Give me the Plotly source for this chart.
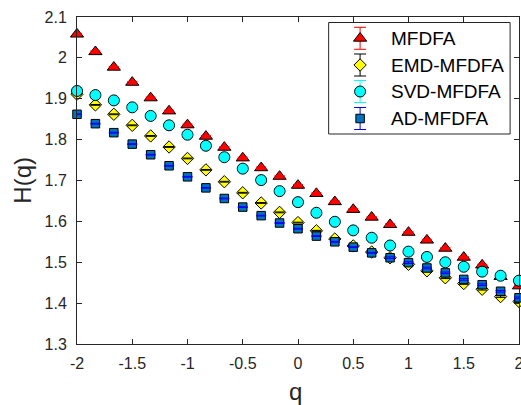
import plotly.graph_objects as go

# ---- data -------------------------------------------------------------
q = [-2.0, -1.8333, -1.6667, -1.5, -1.3333, -1.1667, -1.0, -0.8333, -0.6667,
     -0.5, -0.3333, -0.1667, 0.0, 0.1667, 0.3333, 0.5, 0.6667, 0.8333, 1.0,
     1.1667, 1.3333, 1.5, 1.6667, 1.8333, 2.0]

h_mfdfa = [2.058, 2.015, 1.977, 1.940, 1.902, 1.870, 1.836, 1.808, 1.781,
           1.755, 1.731, 1.710, 1.688, 1.668, 1.648, 1.629, 1.610, 1.592,
           1.573, 1.554, 1.534, 1.512, 1.493, 1.465, 1.442]
h_emd = [1.911, 1.885, 1.862, 1.835, 1.809, 1.782, 1.754, 1.726, 1.697,
         1.670, 1.645, 1.622, 1.597, 1.577, 1.557, 1.540, 1.525, 1.511,
         1.495, 1.479, 1.462, 1.448, 1.434, 1.416, 1.404]
h_svd = [1.919, 1.909, 1.896, 1.879, 1.858, 1.835, 1.812, 1.785, 1.757,
         1.729, 1.701, 1.674, 1.647, 1.621, 1.599, 1.578, 1.560, 1.541,
         1.526, 1.513, 1.500, 1.489, 1.477, 1.467, 1.455]
h_ad = [1.862, 1.839, 1.817, 1.789, 1.763, 1.736, 1.709, 1.682, 1.656,
        1.635, 1.614, 1.596, 1.582, 1.564, 1.550, 1.537, 1.523, 1.511,
        1.499, 1.486, 1.474, 1.458, 1.445, 1.429, 1.413]

# standard errors of the estimated exponents
err_mfdfa = [0.002, 0.002, 0.002, 0.002, 0.002, 0.002, 0.002, 0.002, 0.002,
             0.002, 0.002, 0.002, 0.002, 0.002, 0.002, 0.002, 0.002, 0.002,
             0.002, 0.002, 0.002, 0.002, 0.002, 0.003, 0.003]
err_emd = [0.001, 0.001, 0.001, 0.001, 0.001, 0.001, 0.001, 0.001, 0.001,
           0.001, 0.001, 0.001, 0.001, 0.001, 0.001, 0.001, 0.002, 0.002,
           0.002, 0.002, 0.002, 0.002, 0.002, 0.002, 0.002]
err_svd = [0.002, 0.002, 0.002, 0.002, 0.002, 0.002, 0.002, 0.002, 0.002,
           0.002, 0.002, 0.002, 0.002, 0.002, 0.002, 0.002, 0.002, 0.002,
           0.002, 0.002, 0.002, 0.002, 0.002, 0.002, 0.002]
err_ad = [0.001, 0.001, 0.001, 0.001, 0.001, 0.001, 0.001, 0.001, 0.001,
          0.001, 0.001, 0.001, 0.001, 0.001, 0.001, 0.001, 0.001, 0.002,
          0.002, 0.002, 0.002, 0.002, 0.002, 0.002, 0.002]

series_names = ["MFDFA", "EMD-MFDFA", "SVD-MFDFA", "AD-MFDFA"]
series_values = [h_mfdfa, h_emd, h_svd, h_ad]
series_errors = [err_mfdfa, err_emd, err_svd, err_ad]

x_ticks = [-2, -1.5, -1, -0.5, 0, 0.5, 1, 1.5, 2]
x_tick_text = ["-2", "-1.5", "-1", "-0.5", "0", "0.5", "1", "1.5", "2"]
y_ticks = [1.3, 1.4, 1.5, 1.6, 1.7, 1.8, 1.9, 2.0, 2.1]
y_tick_text = ["1.3", "1.4", "1.5", "1.6", "1.7", "1.8", "1.9", "2", "2.1"]

# ---- styles -----------------------------------------------------------
styles = [
    dict(symbol="triangle-up", size=11.5, fill="#FF0000", err="#FF0000"),
    dict(symbol="diamond", size=9.5, fill="#FFFF00", err="#000000"),
    dict(symbol="circle", size=11, fill="#00FFFF", err="#00FFFF"),
    dict(symbol="square", size=8.5, fill="#0072BD", err="#0000FF"),
]
FONT = "Liberation Sans, Arial, sans-serif"
AXIS_COLOR = "#262626"

W, H = 525, 405
ML, MR, MT, MB = 77, 1, 17, 61
PW, PH = W - ML - MR, H - MT - MB

fig = go.Figure()

for name, vals, errs, st in zip(series_names, series_values, series_errors, styles):
    fig.add_trace(go.Scatter(
        x=q, y=vals, mode="markers", name=name, showlegend=False,
        cliponaxis=False,
        marker=dict(symbol=st["symbol"], size=st["size"], color=st["fill"],
                    line=dict(color="#000000", width=1)),
    ))
    # error bars drawn on top of the markers
    fig.add_trace(go.Scatter(
        x=q, y=vals, mode="markers", showlegend=False, hoverinfo="skip",
        cliponaxis=False,
        marker=dict(size=1, opacity=0),
        error_y=dict(type="data", array=errs, visible=True,
                     color=st["err"], thickness=1, width=5),
    ))

# ---- legend (pixel-unit overlay axes) -----------------------------------
box_x0, box_x1, box_y0, box_y1 = 331.5, 515, 22.5, 134
glyph_x, text_x = 363.3, 392.5
row_y = [38.3, 65.0, 91.5, 118.5]

fig.add_shape(type="rect", xref="x2", yref="y2", x0=box_x0, x1=box_x1,
              y0=box_y0, y1=box_y1, fillcolor="#FFFFFF",
              line=dict(color=AXIS_COLOR, width=1), layer="below")

for name, st, ry in zip(series_names, styles, row_y):
    fig.add_trace(go.Scatter(
        x=[glyph_x], y=[ry], xaxis="x2", yaxis="y2", mode="markers",
        showlegend=False, hoverinfo="skip", cliponaxis=False,
        marker=dict(symbol=st["symbol"], size=st["size"], color=st["fill"],
                    line=dict(color="#000000", width=1)),
        error_y=dict(type="data", array=[11], visible=True,
                     color=st["err"], thickness=1, width=6),
    ))
    fig.add_annotation(x=text_x, y=ry, xref="x2", yref="y2", text=name,
                       showarrow=False, xanchor="left", yanchor="middle",
                       font=dict(family=FONT, size=19, color="#000000"))

# ---- axis titles ----------------------------------------------------------
fig.add_annotation(x=(298 - ML) / PW, y=(MT + PH - 391) / PH, xref="paper",
                   yref="paper", text="q", showarrow=False,
                   xanchor="center", yanchor="middle",
                   font=dict(family=FONT, size=24, color=AXIS_COLOR))
fig.add_annotation(x=(21 - ML) / PW, y=(MT + PH - 180) / PH, xref="paper",
                   yref="paper", text="H(q)", showarrow=False, textangle=-90,
                   xanchor="center", yanchor="middle",
                   font=dict(family=FONT, size=24, color=AXIS_COLOR))

axis_common = dict(showgrid=False, zeroline=False, showline=True,
                   linecolor=AXIS_COLOR, linewidth=1, mirror="ticks",
                   ticks="inside", ticklen=5, tickwidth=1,
                   tickcolor=AXIS_COLOR, ticklabeloverflow="allow",
                   tickfont=dict(family=FONT, size=16, color=AXIS_COLOR))

fig.update_layout(
    width=W, height=H,
    margin=dict(l=ML, r=MR, t=MT, b=MB, pad=0),
    paper_bgcolor="#FFFFFF", plot_bgcolor="#FFFFFF",
    showlegend=False,
    xaxis=dict(range=[-2, 2], tickmode="array", tickvals=x_ticks,
               ticktext=x_tick_text, ticklabelstandoff=5, **axis_common),
    yaxis=dict(range=[1.3, 2.1], tickmode="array", tickvals=y_ticks,
               ticktext=y_tick_text, ticklabelstandoff=6, **axis_common),
    xaxis2=dict(overlaying="x", anchor="y2", range=[ML, ML + PW],
                visible=False, fixedrange=True),
    yaxis2=dict(overlaying="y", anchor="x2", range=[MT + PH, MT],
                visible=False, fixedrange=True),
)

fig.write_html(
    "out.html",
    post_script="document.documentElement.style.overflow='hidden';"
                "document.body.style.overflow='hidden';",
)
